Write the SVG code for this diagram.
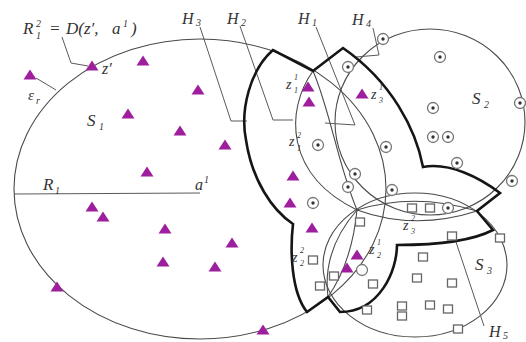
<svg xmlns="http://www.w3.org/2000/svg" width="526" height="342" viewBox="0 0 526 342">
<style>
.thin{fill:none;stroke:#4a4a4a;stroke-width:1.1}
.lead{fill:none;stroke:#5a5a5a;stroke-width:1}
.bold{fill:none;stroke:#151515;stroke-width:2.6;stroke-linejoin:miter}
.tri{fill:#9d1f9d}
.sq{fill:#fff;stroke:#666;stroke-width:1.3}
.cd{fill:#fff;stroke:#777;stroke-width:1.3}
.dot{fill:#333}
text{font-family:"Liberation Serif","Times New Roman",serif;font-style:italic;fill:#333}
.m{font-size:17px}
.s{font-size:10px}
.z{font-size:14px}
.zs{font-size:8px}
</style>
<defs>
<polygon id="tri" points="0,-5.5 6.5,4.5 -6.5,4.5"/>
<rect id="sq" x="-4.5" y="-4" width="9" height="8"/>
<g id="cd"><circle r="5.5" class="cd"/><circle r="1.7" class="dot"/></g>
</defs>
<rect width="526" height="342" fill="#fff"/>

<g id="S1"><ellipse class="thin" cx="200" cy="189" rx="186" ry="150"/></g>
<g id="S2"><ellipse class="thin" cx="430" cy="122" rx="95" ry="93"/></g>
<g id="S3"><ellipse class="thin" cx="415" cy="265" rx="92" ry="72"/></g>

<g id="connectors">
<path class="thin" d="M313,71 C285,110 285,175 357,210"/>
<path class="thin" d="M313,71 C330,110 338,165 357,210"/>
<path class="thin" d="M357,210 Q415,192 477,211"/>
<path class="thin" d="M357,210 Q415,231 477,211"/>
<path class="thin" d="M357,210 Q322,250 328,297"/>
<path class="thin" d="M357,210 Q352,262 328,297"/>
<polyline class="lead" points="62,37 71,63 88,66"/>
<line class="lead" x1="36" y1="78" x2="56" y2="90"/>
<line class="lead" x1="14" y1="194" x2="200" y2="193"/>
<polyline class="lead" points="200,27 231,121 247,121"/>
<polyline class="lead" points="240,26 273,120 293,120"/>
<polyline class="lead" points="316,27 355,125 325,123"/>
<polyline class="lead" points="373,28 379,55 356,57"/>
<line class="lead" x1="484" y1="326" x2="454" y2="236"/>
</g>

<g id="boundary">
<path class="bold" d="M273,50 C250,70 240,110 246,140 C252,180 272,210 293,224 C290,250 291,292 307,312 L328,297 L340,312 C380,312 397,270 397,245 C430,245 470,242 493,230 L477,211 L500,193 C480,178 450,162 423,167 C416,130 392,82 343,48 L313,71 Z"/>
</g>

<g id="points-triangle">
<use href="#tri" class="tri" x="30" y="75"/>
<use href="#tri" class="tri" x="92" y="66"/>
<use href="#tri" class="tri" x="143" y="61"/>
<use href="#tri" class="tri" x="198" y="90"/>
<use href="#tri" class="tri" x="128" y="114"/>
<use href="#tri" class="tri" x="180" y="131"/>
<use href="#tri" class="tri" x="225" y="145"/>
<use href="#tri" class="tri" x="147" y="172"/>
<use href="#tri" class="tri" x="92" y="207"/>
<use href="#tri" class="tri" x="103" y="217"/>
<use href="#tri" class="tri" x="165" y="229"/>
<use href="#tri" class="tri" x="232" y="243"/>
<use href="#tri" class="tri" x="163" y="262"/>
<use href="#tri" class="tri" x="215" y="267"/>
<use href="#tri" class="tri" x="57" y="287"/>
<use href="#tri" class="tri" x="263" y="330"/>
<use href="#tri" class="tri" x="308" y="87"/>
<use href="#tri" class="tri" x="309" y="102"/>
<use href="#tri" class="tri" x="362" y="94"/>
<use href="#tri" class="tri" x="293" y="176"/>
<use href="#tri" class="tri" x="290" y="203"/>
<use href="#tri" class="tri" x="312" y="228"/>
<use href="#tri" class="tri" x="357" y="255"/>
<use href="#tri" class="tri" x="347" y="268"/>
</g>

<g id="points-circle">
<use href="#cd" x="383" y="39"/>
<use href="#cd" x="348" y="67"/>
<use href="#cd" x="440" y="57"/>
<use href="#cd" x="520" y="103"/>
<use href="#cd" x="433" y="108"/>
<use href="#cd" x="433" y="137"/>
<use href="#cd" x="448" y="137"/>
<use href="#cd" x="318" y="145"/>
<use href="#cd" x="386" y="147"/>
<use href="#cd" x="457" y="163"/>
<use href="#cd" x="512" y="181"/>
<use href="#cd" x="392" y="190"/>
<use href="#cd" x="355" y="174"/>
<use href="#cd" x="348" y="187"/>
<use href="#cd" x="313" y="203"/>
<use href="#cd" x="448" y="208"/>
<circle class="cd" cx="362" cy="270" r="5.5"/>
</g>

<g id="points-square">
<use href="#sq" class="sq" x="412" y="208"/>
<use href="#sq" class="sq" x="430" y="208"/>
<use href="#sq" class="sq" x="360" y="222"/>
<use href="#sq" class="sq" x="452" y="236"/>
<use href="#sq" class="sq" x="500" y="238"/>
<use href="#sq" class="sq" x="423" y="257"/>
<use href="#sq" class="sq" x="313" y="260"/>
<use href="#sq" class="sq" x="417" y="278"/>
<use href="#sq" class="sq" x="452" y="283"/>
<use href="#sq" class="sq" x="334" y="276"/>
<use href="#sq" class="sq" x="320" y="286"/>
<use href="#sq" class="sq" x="373" y="284"/>
<use href="#sq" class="sq" x="367" y="310"/>
<use href="#sq" class="sq" x="402" y="306"/>
<use href="#sq" class="sq" x="402" y="316"/>
<use href="#sq" class="sq" x="430" y="305"/>
<use href="#sq" class="sq" x="448" y="309"/>
<use href="#sq" class="sq" x="458" y="329"/>
</g>

<g id="labels">
<text class="m" x="23" y="34">R</text><text class="s" x="36" y="27">2</text><text class="s" x="36" y="39">1</text>
<text class="m" x="49" y="34" font-style="normal">=</text>
<text class="m" x="66" y="34">D(z′,</text><text class="m" x="112" y="34">a</text><text class="s" x="123" y="27">1</text><text class="m" x="131" y="34">)</text>
<text x="102" y="74" font-size="16">z′</text>
<text x="28" y="100" font-size="15">ε</text><text class="s" x="36" y="104">r</text>
<text class="m" x="87" y="126">S</text><text class="s" x="99" y="130">1</text>
<text class="m" x="43" y="190">R</text><text class="s" x="55" y="194">1</text>
<text x="195" y="190" font-size="16">a</text><text class="s" x="204" y="183">1</text>
<text x="182" y="24" font-size="16">H</text><text class="s" x="196" y="26">3</text>
<text x="227" y="24" font-size="16">H</text><text class="s" x="241" y="26">2</text>
<text x="298" y="24" font-size="16">H</text><text class="s" x="312" y="26">1</text>
<text x="352" y="25" font-size="16">H</text><text class="s" x="366" y="27">4</text>
<text x="489" y="337" font-size="16">H</text><text class="s" x="503" y="339">5</text>
<text class="m" x="472" y="104">S</text><text class="s" x="484" y="108">2</text>
<text class="m" x="475" y="270">S</text><text class="s" x="487" y="274">3</text>
<text class="z" x="286" y="89">z</text><text class="zs" x="294" y="80">1</text><text class="zs" x="294" y="93">1</text>
<text class="z" x="289" y="146">z</text><text class="zs" x="297" y="138">2</text><text class="zs" x="297" y="151">1</text>
<text class="z" x="371" y="99">z</text><text class="zs" x="379" y="90">1</text><text class="zs" x="379" y="103">3</text>
<text class="z" x="403" y="230">z</text><text class="zs" x="411" y="221">2</text><text class="zs" x="411" y="234">3</text>
<text class="z" x="369" y="254">z</text><text class="zs" x="377" y="245">1</text><text class="zs" x="377" y="258">2</text>
<text class="z" x="292" y="262">z</text><text class="zs" x="300" y="253">2</text><text class="zs" x="300" y="266">2</text>
</g>
</svg>
